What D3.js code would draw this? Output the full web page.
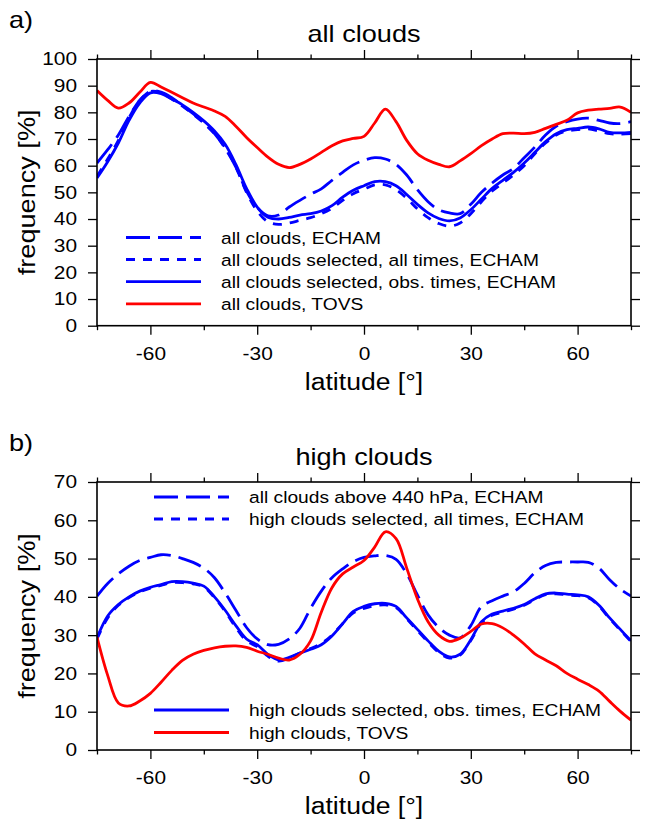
<!DOCTYPE html>
<html>
<head>
<meta charset="utf-8">
<script src="https://cdn.jsdelivr.net/npm/d3@7"></script>
<style>
  body { margin: 0; background: #fff; }
  text { font-family: "Liberation Sans", Arial, sans-serif; fill: #000; }
</style>
</head>
<body>
<script>
// latitude grid shared by every curve
const lat = [-75, -72, -69, -66, -63, -60, -57, -54, -51, -48, -45, -42, -39, -36, -33, -30, -27,
  -24, -21, -18, -15, -12, -9, -6, -3, 0, 3, 6, 9, 12, 15, 18, 21, 24, 27, 30, 33, 36, 39, 42,
  45, 48, 51, 54, 57, 60, 63, 66, 69, 72, 75];

// a) all clouds
const allEcham = [61, 66, 71.5, 78.5, 84.5, 87.9, 87.6, 85.5, 82.5, 79.5, 76, 72, 66.5, 59.5, 50.5,
  44.3, 41.2, 41.5, 44.5, 47, 49.3, 51.3, 54.5, 57.5, 60.3, 62, 63, 62.5, 60.5, 56.5, 51, 46.5,
  43.5, 42.3, 42, 45.5, 50, 53.5, 56.5, 59, 63, 67, 71.5, 74.8, 76.5, 77.5, 77.8, 77, 76, 75.8, 76.5];
const allSelAll = [56, 62.5, 69.5, 78, 84.5, 87.8, 87.3, 85, 82.3, 79.3, 76, 72, 66.8, 59.5, 50,
  43, 39, 38, 38.5, 39.5, 40.5, 42, 44, 47, 49.5, 51.2, 52.8, 52.8, 51, 47.8, 43.8, 40.5, 38.3,
  37.3, 38.5, 42, 46.5, 50.5, 53.5, 56.5, 60, 64.5, 68.5, 71.5, 73, 73.5, 73.8, 73, 72, 71.8, 72];
const allSelObs = [55.4, 61.5, 68.5, 77, 83.5, 87.3, 87, 85, 82.8, 80, 76.8, 73, 68, 60.5, 51.5,
  44.5, 40.7, 40, 40.6, 41.5, 42, 43, 45, 48.2, 50.8, 52.5, 54, 54, 52.5, 49.2, 45.5, 42.3, 40.2,
  39.3, 40.4, 43.5, 47.5, 51.5, 54.5, 57.5, 61, 65, 69, 72, 73.5, 74, 74.5, 73.8, 72.5, 72.3, 72.5];
const allTovs = [88.2, 84.5, 81.6, 83.5, 87.5, 91.2, 89.5, 87.5, 85.5, 83.5, 82, 80.5, 78.5, 74.8,
  70.6, 66.8, 63.2, 60.5, 59.3, 60.5, 62.5, 65, 67.5, 69.3, 70.2, 71, 76, 81.2, 76.5, 69.5, 64.5, 62,
  60.5, 59.6, 61.8, 64.5, 67.5, 70, 72, 72.2, 72, 72.5, 74, 75.5, 77, 79.8, 80.8, 81.2, 81.5, 82, 80];

// b) high clouds
const highAbove440 = [40.2, 43.5, 46, 48, 49.5, 50.3, 51, 50.8, 50, 49, 47.5, 45, 41, 36.5, 32,
  29, 27.5, 27.6, 29, 31.8, 37, 41.5, 45, 47.3, 49.2, 50.3, 50.7, 50.8, 49.8, 46, 40.5, 35.3, 32,
  30, 29.3, 32.5, 37.5, 39, 40.2, 41.3, 43.5, 46.3, 48.2, 49, 49.1, 49.1, 49, 47.5, 44.5, 42, 40.2];
const highSelAll = [29, 34.5, 37.8, 39.8, 41.3, 42.3, 43, 43.7, 43.7, 43.4, 42.6, 39.8, 36.2, 32,
  28.5, 27, 24.5, 23.2, 24, 25.3, 26.5, 27.8, 30, 33, 35.8, 37, 37.7, 37.9, 37.2, 34.3, 31.2, 28.2,
  25.5, 24, 24.8, 28.6, 33.2, 35.2, 36, 36.8, 37.8, 39.3, 40.6, 40.8, 40.5, 40.3, 39.8, 37.6, 34.3,
  31.3, 28.3];
const highSelObs = [29.3, 35, 38, 40, 41.5, 42.5, 43.2, 44, 44, 43.6, 42.8, 40, 36.5, 32.5, 29,
  27.5, 25, 23.5, 24.2, 25.3, 26.3, 27.5, 29.8, 33, 36.2, 37.5, 38.2, 38.3, 37.5, 34.5, 31.5, 28.5,
  25.8, 24.3, 25, 28.8, 33.5, 35.5, 36.3, 37, 38, 39.5, 40.8, 41, 40.7, 40.5, 40, 37.8, 34.5, 31.5, 28.5];
const highTovs = [29.5, 19.5, 12.3, 11.5, 12.8, 14.8, 17.7, 20.8, 23.4, 25, 26, 26.7, 27.1, 27.2,
  26.8, 25.8, 25, 24, 23.5, 25, 28.5, 36, 42.4, 46, 47.8, 49.5, 53, 57, 55.2, 47.5, 39.5, 33.5,
  30, 28.4, 29.2, 31, 32.9, 33, 31.9, 30, 27.7, 25.1, 23.5, 22, 20, 18.5, 17.1, 15.4, 12.7, 10.1, 7.8];

const xMajor = [-60, -30, 0, 30, 60];
const xMinor = [-75, -45, -15, 15, 45, 75];

const width = 646, height = 820;
const left = 97, right = 631;
const sx = 1.13; // reference glyphs are a bit wider than Liberation Sans
const blue = "#0000ff", red = "#ff0000";
const longDash = "24,8", shortDash = "9,8";

const panels = [
  {
    tag: "a)", title: "all clouds", top: 59, bottom: 325.7, ymax: 100,
    legendX: 126, legendY: [237.5, 259.5, 281.7, 303.8],
    series: [
      { values: allEcham, color: blue, dash: longDash, name: "all clouds, ECHAM" },
      { values: allSelAll, color: blue, dash: shortDash, name: "all clouds selected, all times, ECHAM" },
      { values: allSelObs, color: blue, dash: null, name: "all clouds selected, obs. times, ECHAM" },
      { values: allTovs, color: red, dash: null, name: "all clouds, TOVS" }
    ]
  },
  {
    tag: "b)", title: "high clouds", top: 482, bottom: 750, ymax: 70,
    legendX: 154, legendY: [497, 519, 710, 732.5],
    series: [
      { values: highAbove440, color: blue, dash: longDash, name: "all clouds above 440 hPa, ECHAM" },
      { values: highSelAll, color: blue, dash: shortDash, name: "high clouds selected, all times, ECHAM" },
      { values: highSelObs, color: blue, dash: null, name: "high clouds selected, obs. times, ECHAM" },
      { values: highTovs, color: red, dash: null, name: "high clouds, TOVS" }
    ]
  }
];

const svg = d3.select("body").append("svg")
  .attr("width", width)
  .attr("height", height)
  .style("background-color", "#fff");

function label(g, str, x, y, size, anchor, rot) {
  return g.append("text")
    .attr("transform", `translate(${x},${y})` + (rot ? ` rotate(${rot})` : "") + ` scale(${sx},1)`)
    .attr("text-anchor", anchor)
    .style("font-size", size + "px")
    .text(str);
}

function styleAxis(ax) {
  ax.select(".domain").remove();
  ax.selectAll(".tick line").attr("stroke", "#000").attr("stroke-width", 1.3);
}

panels.forEach(function (p, pi) {
  const g = svg.append("g");

  const x = d3.scaleLinear().domain([-75, 75]).range([left, right]);
  const y = d3.scaleLinear().domain([0, p.ymax]).range([p.bottom, p.top]);
  const yTicks = d3.range(0, p.ymax + 1, 10);

  g.append("clipPath").attr("id", "clip" + pi)
    .append("rect")
    .attr("x", left).attr("y", p.top)
    .attr("width", right - left).attr("height", p.bottom - p.top);

  // outer tick marks on all four sides
  const bottomAx = g.append("g").attr("transform", `translate(0,${p.bottom})`)
    .call(d3.axisBottom(x).tickValues(xMajor).tickSize(9).tickPadding(12).tickFormat(d => d));
  bottomAx.selectAll("text").style("font-size", "18.5px")
    .attr("transform", `scale(${sx},1)`);
  styleAxis(bottomAx);
  styleAxis(g.append("g").attr("transform", `translate(0,${p.bottom})`)
    .call(d3.axisBottom(x).tickValues(xMinor).tickSize(4.5).tickFormat("")));
  styleAxis(g.append("g").attr("transform", `translate(0,${p.top})`)
    .call(d3.axisTop(x).tickValues(xMajor).tickSize(9).tickFormat("")));
  styleAxis(g.append("g").attr("transform", `translate(0,${p.top})`)
    .call(d3.axisTop(x).tickValues(xMinor).tickSize(4.5).tickFormat("")));

  const leftAx = g.append("g").attr("transform", `translate(${left},0)`)
    .call(d3.axisLeft(y).tickValues(yTicks).tickSize(9).tickPadding(11).tickFormat(d => d));
  leftAx.selectAll("text").style("font-size", "18.5px")
    .attr("x", -20 / sx)
    .attr("transform", `scale(${sx},1)`);
  styleAxis(leftAx);
  styleAxis(g.append("g").attr("transform", `translate(${right},0)`)
    .call(d3.axisRight(y).tickValues(yTicks).tickSize(9).tickFormat("")));

  // curves
  const line = d3.line()
    .x((d, i) => x(lat[i]))
    .y(d => y(d))
    .curve(d3.curveCatmullRom.alpha(0.5));

  g.append("g").attr("clip-path", `url(#clip${pi})`)
    .selectAll("path")
    .data(p.series)
    .enter().append("path")
    .attr("d", d => line(d.values))
    .attr("fill", "none")
    .attr("stroke", d => d.color)
    .attr("stroke-width", 2.8)
    .attr("stroke-dasharray", d => d.dash);

  // frame
  g.append("rect")
    .attr("x", left).attr("y", p.top)
    .attr("width", right - left).attr("height", p.bottom - p.top)
    .attr("fill", "none")
    .attr("stroke", "#000")
    .attr("stroke-width", 1.6);

  // legend
  const items = g.selectAll(".leg")
    .data(p.series)
    .enter().append("g")
    .attr("class", "leg")
    .attr("transform", (d, i) => `translate(${p.legendX},${p.legendY[i]})`);
  items.append("line")
    .attr("x1", 0).attr("x2", 75)
    .attr("stroke", d => d.color)
    .attr("stroke-width", 2.8)
    .attr("stroke-dasharray", d => d.dash);
  items.each(function (d) {
    label(d3.select(this), d.name, 95, 6, 17, "start");
  });

  // titles and axis labels
  const off = p.top - 59;
  label(g, p.tag, 9, 28 + off, 24, "start");
  label(g, p.title, (left + right) / 2, 42 + off, 24, "middle");
  label(g, "latitude [°]", (left + right) / 2, p.bottom + 64, 23.5, "middle");
  label(g, "frequency [%]", 35, (p.top + p.bottom) / 2, 24, "middle", -90);
});
</script>
</body>
</html>
